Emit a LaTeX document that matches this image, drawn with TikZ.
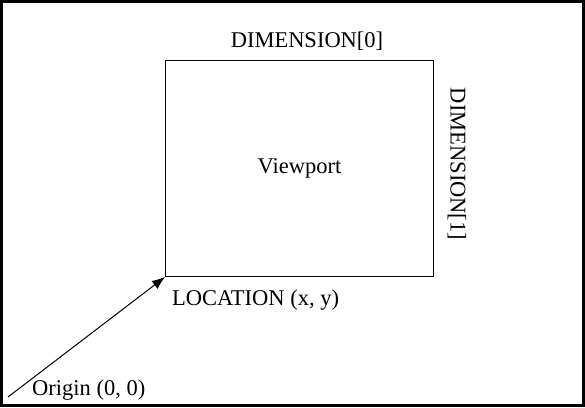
\documentclass[tikz,border=0pt]{standalone}
\usepackage{fontspec}
\setmainfont{Liberation Serif}
\usetikzlibrary{arrows.meta}
\begin{document}
\begin{tikzpicture}[x=1pt,y=-1pt,
  lbl/.style={font=\fontsize{22.5}{26}\selectfont, inner sep=0pt},
  frame/.style={draw=black, line width=3pt},
  boxstyle/.style={draw=black, line width=1pt}]
\useasboundingbox (0,0) rectangle (585,407);
\draw[frame] (1.5,1.5) rectangle (583,405);
\node[boxstyle, minimum width=268pt, minimum height=216pt, anchor=north west, inner sep=0pt,
  font=\fontsize{22.5}{26}\selectfont] (vp) at (165,60) {\raisebox{3pt}{Viewport}};
\node[lbl] (d0) at (307,41) {DIMENSION[0]};
\node[lbl, rotate=-90] (d1) at (457,164) {DIMENSION[1]};
\node[lbl, anchor=west] (loc) at (172,300) {LOCATION (x, y)};
\node[lbl, anchor=west] (orig) at (32,390) {Origin (0, 0)};
\coordinate (o) at (8,397);
\draw[line width=1pt, -{Latex[length=13pt,width=10pt]}] (o) -- (vp.south west);
\end{tikzpicture}
\end{document}
